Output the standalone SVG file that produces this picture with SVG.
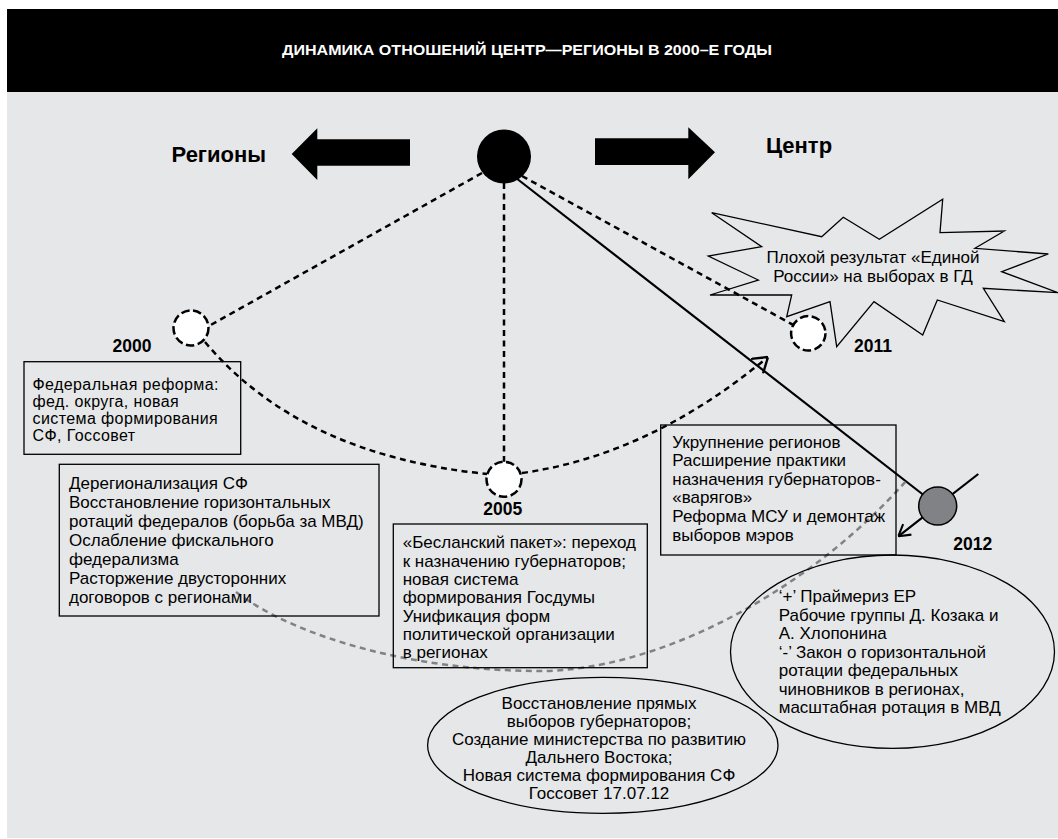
<svg xmlns="http://www.w3.org/2000/svg" width="1058" height="839" viewBox="0 0 1058 839">
<defs>
<style>
text{font-family:"Liberation Sans",Arial,sans-serif;fill:#000}
.t{font-size:17px}
.t1{font-size:16px;letter-spacing:0.4px}
.c{text-anchor:middle}
.yr{font-size:17.5px;font-weight:bold}
.big{font-size:22px;font-weight:bold}
.box{fill:none;stroke:#000;stroke-width:1.3}
.ell{fill:none;stroke:#000;stroke-width:1.3}
.dc{fill:#fff;stroke:#000;stroke-width:2.5;stroke-dasharray:8.5 3.5}
.dl{fill:none;stroke:#000;stroke-width:2.5;stroke-dasharray:6 4.5}
.gl{fill:none;stroke:#808285;stroke-width:2.5;stroke-dasharray:6 4.5}
.sl{fill:none;stroke:#000;stroke-width:2.2}
</style>
<marker id="ah" viewBox="0 0 10 10" refX="10" refY="5" markerWidth="20" markerHeight="20" markerUnits="userSpaceOnUse" orient="auto">
<path d="M2.9,0.3 L10,5 L2.9,9.7" fill="none" stroke="#000" stroke-width="1.2" stroke-dasharray="none"/>
</marker>
<marker id="ah2" viewBox="0 0 10 10" refX="10" refY="5" markerWidth="16" markerHeight="16" markerUnits="userSpaceOnUse" orient="auto">
<path d="M2.9,0.8 L10,5 L2.9,9.2" fill="none" stroke="#000" stroke-width="1.3"/>
</marker>
</defs>

<rect x="0" y="0" width="1058" height="839" fill="#fff"/>
<rect x="7" y="92" width="1051" height="746" fill="#e6e7e8"/>

<g id="header">
<rect x="7" y="9" width="1051" height="83" fill="#000"/>
<text x="527" y="54.5" class="c" style="font-size:14px;font-weight:bold;fill:#fff" textLength="490" lengthAdjust="spacingAndGlyphs">ДИНАМИКА ОТНОШЕНИЙ ЦЕНТР—РЕГИОНЫ В 2000–Е ГОДЫ</text>
</g>

<g id="regions">
<text x="171.5" y="162.3" class="big">Регионы</text>
<polygon points="291.7,154 317.3,128.3 317.3,139.3 410,139.3 410,165.7 317.3,165.7 317.3,180" fill="#000"/>
</g>

<g id="center">
<text x="766" y="153.3" class="big">Центр</text>
<polygon points="715,152.3 688.3,127.3 688.3,138.3 595,138.3 595,165 688.3,165 688.3,179.3" fill="#000"/>
</g>

<g id="connectors">
<line class="dl" x1="482" y1="173" x2="200" y2="331"/>
<line class="dl" x1="504" y1="183" x2="504" y2="479"/>
<line class="dl" x1="522" y1="176" x2="808" y2="333"/>
<line class="sl" x1="516" y1="178" x2="937.7" y2="506"/>
<path class="dl" d="M205,342 Q300,455 487,474"/>
<path class="dl" d="M522,473 Q650,455 768,357" marker-end="url(#ah)"/>
<path class="gl" d="M236,592 C300,640 420,671 540,671 C650,671 800,600 907,480"/>
<line class="sl" x1="978.3" y1="474" x2="898.3" y2="536.3" marker-end="url(#ah2)"/>
</g>

<g id="pivot">
<circle cx="504" cy="156.5" r="27" fill="#000"/>
</g>

<g id="y2000">
<circle class="dc" cx="191" cy="328" r="17.5"/>
<text x="112.5" y="352" class="yr">2000</text>
</g>
<g id="box2000">
<rect class="box" x="24" y="361.7" width="216.7" height="92.6"/>
<text class="t1" x="32.5" y="390">Федеральная реформа:</text>
<text class="t1" x="32.5" y="407">фед. округа, новая</text>
<text class="t1" x="32.5" y="424">система формирования</text>
<text class="t1" x="32.5" y="441">СФ, Госсовет</text>
</g>

<g id="box-dereg">
<rect class="box" x="59.3" y="464.3" width="319.7" height="151.7"/>
<text class="t" x="69" y="489">Дерегионализация СФ</text>
<text class="t" x="69" y="508">Восстановление горизонтальных</text>
<text class="t" x="69" y="527">ротаций федералов (борьба за МВД)</text>
<text class="t" x="69" y="546">Ослабление фискального</text>
<text class="t" x="69" y="565">федерализма</text>
<text class="t" x="69" y="584">Расторжение двусторонних</text>
<text class="t" x="69" y="603">договоров с регионами</text>
</g>

<g id="y2005">
<circle class="dc" cx="504" cy="479.3" r="17.5"/>
<text x="483.3" y="515" class="yr">2005</text>
</g>
<g id="box2005">
<rect class="box" x="393.3" y="524" width="254" height="143.7"/>
<text class="t" x="402.7" y="548.3">«Бесланский пакет»: переход</text>
<text class="t" x="402.7" y="566.7">к назначению губернаторов;</text>
<text class="t" x="402.7" y="585">новая система</text>
<text class="t" x="402.7" y="603.3">формирования Госдумы</text>
<text class="t" x="402.7" y="621.7">Унификация форм</text>
<text class="t" x="402.7" y="640">политической организации</text>
<text class="t" x="402.7" y="658.3">в регионах</text>
</g>

<g id="burst2011">
<polygon points="711.7,212.7 821.7,236.7 843.3,217.3 879.3,239.3 942.7,199.3 940,232.7 1004.3,231 975,248.3 1048.3,254 1001.7,271.7 1058,292.7 983.3,288.3 1004.3,321.7 937.3,300 922.7,335 874,301.7 836.7,346.7 830,301.7 786.7,316.7 791.7,295 710,295 758.3,280 708.3,256 761.7,246.7" fill="none" stroke="#000" stroke-width="1.3" stroke-linejoin="miter"/>
<text class="t c" x="873" y="262.5">Плохой результат «Единой</text>
<text class="t c" x="873" y="281.5">России» на выборах в ГД</text>
</g>

<g id="y2011">
<circle class="dc" cx="808.3" cy="333.3" r="17.2"/>
<text x="854" y="352.3" class="yr">2011</text>
</g>

<g id="box2012">
<rect class="box" x="660.7" y="425" width="235.3" height="130"/>
<text class="t" x="672.3" y="447.5">Укрупнение регионов</text>
<text class="t" x="672.3" y="466">Расширение практики</text>
<text class="t" x="672.3" y="484.7">назначения губернаторов-</text>
<text class="t" x="672.3" y="503.3">«варягов»</text>
<text class="t" x="672.3" y="522">Реформа МСУ и демонтаж</text>
<text class="t" x="672.3" y="540.5">выборов мэров</text>
</g>

<g id="y2012">
<circle cx="937.7" cy="506" r="19" fill="#808285" stroke="#000" stroke-width="1.5"/>
<text x="953.3" y="550" class="yr">2012</text>
</g>

<g id="ellipse2012">
<ellipse class="ell" cx="892.5" cy="651.7" rx="162" ry="96.7"/>
<text class="t" x="778.7" y="602">‘+’ Праймериз ЕР</text>
<text class="t" x="778.7" y="620.5">Рабочие группы Д. Козака и</text>
<text class="t" x="778.7" y="639">А. Хлопонина</text>
<text class="t" x="778.7" y="657.5">‘-’ Закон о горизонтальной</text>
<text class="t" x="778.7" y="676">ротации федеральных</text>
<text class="t" x="778.7" y="694.5">чиновников в регионах,</text>
<text class="t" x="778.7" y="713">масштабная ротация в МВД</text>
</g>

<g id="ellipse-bottom">
<ellipse class="ell" cx="602.8" cy="745.3" rx="175.2" ry="68"/>
<text class="t c" x="599" y="709.3">Восстановление прямых</text>
<text class="t c" x="599" y="727.3">выборов губернаторов;</text>
<text class="t c" x="599" y="745.3">Создание министерства по развитию</text>
<text class="t c" x="599" y="763.3">Дальнего Востока;</text>
<text class="t c" x="599" y="781.3">Новая система формирования СФ</text>
<text class="t c" x="599" y="799.3">Госсовет 17.07.12</text>
</g>
</svg>
